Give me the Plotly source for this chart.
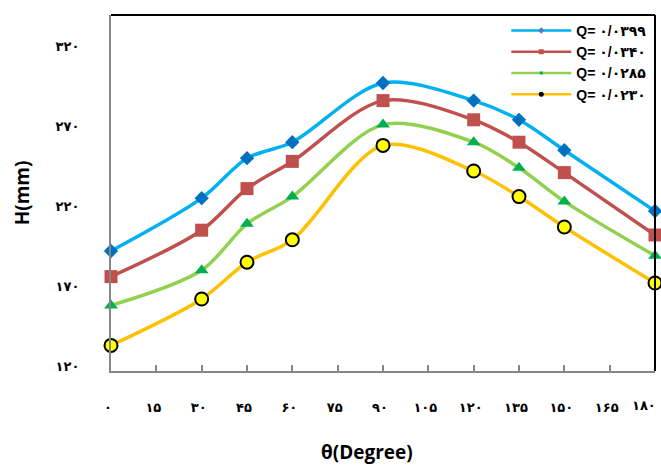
import plotly.graph_objects as go

# Angle (degrees) at which the head was measured
theta = [0, 30, 45, 60, 90, 120, 135, 150, 180]

# Head H (mm) for each discharge
h_0399 = [195, 228, 253, 263, 300, 289, 277, 258, 220]
h_0340 = [179, 208, 234, 251, 289, 277, 263, 244, 205]
h_0285 = [161, 183, 212, 229, 274, 263, 247, 226, 192]
h_0230 = [136, 165, 188, 202, 261, 245, 229, 210, 175]

series_names = ["Q= ۰/۰۳۹۹", "Q= ۰/۰۳۴۰", "Q= ۰/۰۲۸۵", "Q= ۰/۰۲۳۰"]

x_tickvals = [0, 15, 30, 45, 60, 75, 90, 105, 120, 135, 150, 165, 180]
x_ticktext = ["۰", "۱۵", "۳۰", "۴۵", "۶۰", "۷۵", "۹۰", "۱۰۵", "۱۲۰", "۱۳۵", "۱۵۰", "۱۶۵", "۱۸۰"]
y_tickvals = [120, 170, 220, 270, 320]
y_ticktext = ["۱۲۰", "۱۷۰", "۲۲۰", "۲۷۰", "۳۲۰"]

tick_font = dict(family="DejaVu Sans", size=13, color="black", weight="bold")

styles = [
    dict(line="#00B0F0", marker=dict(symbol="diamond", color="#0070C0", size=11,
                                     line=dict(width=0)),
         legend_marker=dict(symbol="diamond", color="#4F81BD", size=5)),
    dict(line="#C0504D", marker=dict(symbol="square", color="#C0504D", size=13,
                                     line=dict(width=0)),
         legend_marker=dict(symbol="square", color="#C0504D", size=5)),
    dict(line="#92D050", marker=dict(symbol="triangle-up", color="#00B050", size=12,
                                     line=dict(width=0)),
         legend_marker=dict(symbol="square", color="#00B050", size=3)),
    dict(line="#FFC000", marker=dict(symbol="circle", color="#FFFF00", size=13,
                                     line=dict(width=2, color="black")),
         legend_marker=dict(symbol="circle", color="black", size=5)),
]

fig = go.Figure()

for name, ys, st in zip(series_names, [h_0399, h_0340, h_0285, h_0230], styles):
    fig.add_trace(go.Scatter(
        x=theta, y=ys, mode="lines+markers", name=name, showlegend=False,
        line=dict(color=st["line"], width=3.5, shape="spline", smoothing=0.9),
        marker=st["marker"], cliponaxis=False,
    ))
    # legend entry with a small marker
    fig.add_trace(go.Scatter(
        x=[None], y=[None], mode="lines+markers", name=name,
        line=dict(color=st["line"], width=2.5),
        marker=st["legend_marker"],
    ))

# the last x label sits inside the right edge, so it is drawn separately
x_ticktext_axis = x_ticktext[:-1] + [""]

fig.update_layout(
    width=661, height=466,
    margin=dict(l=111, r=6, t=15, b=95),
    paper_bgcolor="white", plot_bgcolor="white",
    showlegend=True,
    legend=dict(
        x=0.995, y=1.0, xanchor="right", yanchor="top",
        bgcolor="rgba(0,0,0,0)", borderwidth=0,
        font=dict(family="Liberation Sans, DejaVu Sans", size=14, color="black",
                  weight="bold"),
        itemwidth=60, tracegroupgap=0,
    ),
    xaxis=dict(
        range=[0, 180], tickvals=x_tickvals, ticktext=x_ticktext_axis,
        showgrid=False, zeroline=False,
        showline=True, linecolor="#868686", linewidth=2,
        ticks="inside", ticklen=6, tickwidth=1.5, tickcolor="#868686",
        ticklabelstandoff=23, ticklabelshift=-3,
        tickfont=tick_font,
    ),
    yaxis=dict(
        range=[120, 342.5], tickvals=y_tickvals, ticktext=y_ticktext,
        showgrid=False, zeroline=False,
        showline=True, linecolor="#868686", linewidth=2,
        ticks="", ticklabelstandoff=27, ticklabelshift=-5,
        tickfont=tick_font,
    ),
    shapes=[
        dict(type="line", xref="paper", yref="paper", x0=0, x1=1, y0=1, y1=1,
             line=dict(color="black", width=2)),
        dict(type="line", xref="paper", yref="paper", x0=1, x1=1, y0=0, y1=1,
             line=dict(color="black", width=2)),
    ],
    annotations=[
        dict(text=x_ticktext[-1], xref="x", yref="paper", x=x_tickvals[-1], y=0,
             xshift=-11, yshift=-34, showarrow=False, xanchor="center",
             yanchor="middle", font=tick_font),
        dict(text="H(mm)", xref="paper", yref="paper", x=-0.163, y=0.5,
             textangle=-90, showarrow=False, xanchor="center", yanchor="middle",
             font=dict(family="Open Sans", size=19, color="black", weight="bold")),
        dict(text="θ(Degree)", xref="paper", yref="paper", x=0.47, y=-0.228,
             showarrow=False, xanchor="center", yanchor="middle",
             font=dict(family="Open Sans", size=19, color="black", weight="bold")),
    ],
)

fig.write_html("out.html")
